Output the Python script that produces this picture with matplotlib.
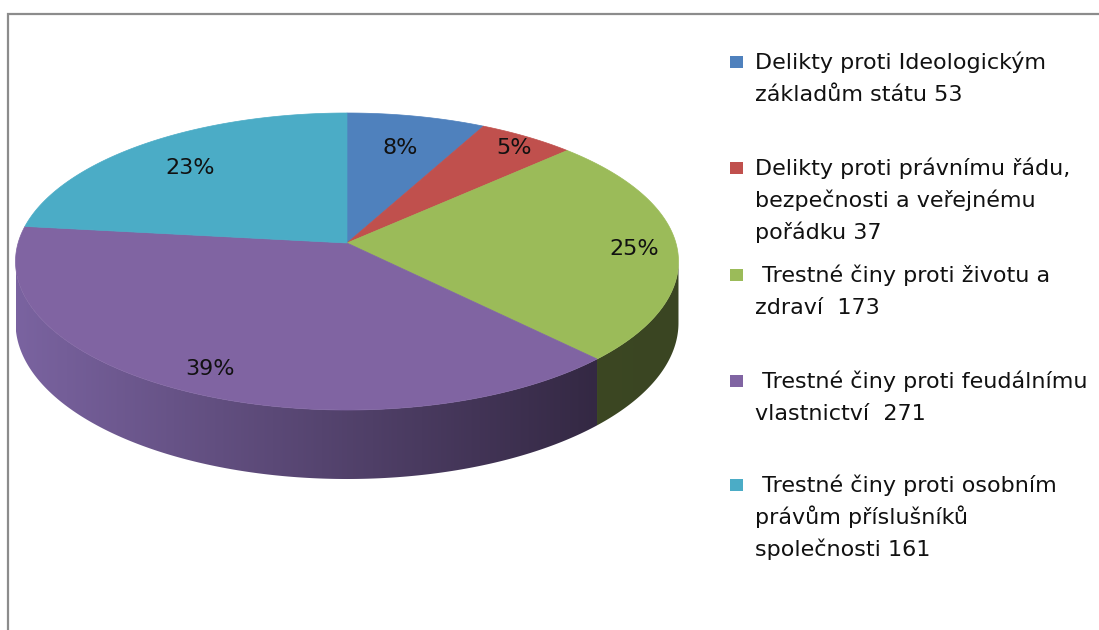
import numpy as np
import matplotlib
matplotlib.use("Agg")
import matplotlib.pyplot as plt
from matplotlib.patches import Polygon, Rectangle
from matplotlib.colors import LinearSegmentedColormap

# ---------------- data ----------------
categories = [
    ["Delikty proti Ideologickým", "základům státu 53"],
    ["Delikty proti právnímu řádu,", "bezpečnosti a veřejnému", "pořádku 37"],
    [" Trestné činy proti životu a", "zdraví  173"],
    [" Trestné činy proti feudálnímu", "vlastnictví  271"],
    [" Trestné činy proti osobním", "právům příslušníků", "společnosti 161"],
]
values = [53, 37, 173, 271, 161]
top_colors = ["#4F81BD", "#C0504D", "#9BBB59", "#8064A2", "#4BACC6"]
side_colors = [("#3B6190", "#263F5E"), ("#913C3A", "#5E2726"),
               ("#46542A", "#3A4522"), ("#7A63A0", "#2A2036"),
               ("#38819A", "#245466")]

# ---------------- layout ----------------
W, H = 1099, 630
CX, CY = 347, 243          # apex of the pie (pixels)
A, B, P = 328.9, 146.2, 0.1246   # projected radii and perspective factor
DEPTH = 60.4
label_r = [0.75, 0.92, 0.87, 0.85, 0.77]
FONT = ["DejaVu Sans"]

plt.rcParams["font.family"] = FONT

fig = plt.figure(figsize=(W / 100, H / 100), dpi=100)
ax = fig.add_axes([0, 0, 1, 1])
ax.set_xlim(0, W)
ax.set_ylim(H, 0)
ax.axis("off")


def proj(phi_deg, r=1.0):
    ph = np.radians(phi_deg)
    u = r * np.cos(ph)
    v = r * np.sin(ph)
    d = 1 + P * v
    return CX + A * u / d, CY - B * v / d


def proj_bottom(phi_deg):
    x, y = proj(phi_deg)
    v = np.sin(np.radians(phi_deg))
    return x, y + DEPTH / (1 + P * v)


total = sum(values)
theta = np.concatenate([[0], np.cumsum(values)]) / total * 360.0

# visible side range (clockwise angle from top)
edge = np.degrees(np.arcsin(P))
vis_lo, vis_hi = 90 + edge, 270 - edge
x_left, _ = proj(180 + edge)
x_right, _ = proj(-edge)

# sides
for i in range(len(values)):
    a0 = max(theta[i], vis_lo)
    a1 = min(theta[i + 1], vis_hi)
    if a1 <= a0:
        continue
    ts = np.linspace(a0, a1, 300)
    phis = 90 - ts
    xt, yt = proj(phis)
    xb, yb = proj_bottom(phis)
    verts = np.vstack([np.column_stack([xt, yt]),
                       np.column_stack([xb[::-1], yb[::-1]])])
    poly = Polygon(verts, closed=True, fc="none", ec="none", zorder=2)
    ax.add_patch(poly)
    cmap = LinearSegmentedColormap.from_list("s%d" % i, list(side_colors[i]))
    grad = np.linspace(0, 1, 512).reshape(1, -1)
    im = ax.imshow(grad, extent=(x_left, x_right, yb.max() + 2, yt.min() - 2),
                   cmap=cmap, aspect="auto", zorder=2, interpolation="bilinear")
    im.set_clip_path(poly)

# top faces
for i in range(len(values)):
    ts = np.linspace(theta[i], theta[i + 1], 300)
    xs, ys = proj(90 - ts)
    verts = np.vstack([[CX, CY], np.column_stack([xs, ys])])
    ax.add_patch(Polygon(verts, closed=True, fc=top_colors[i],
                         ec=top_colors[i], lw=0.5, zorder=3))

ax.set_xlim(0, W)
ax.set_ylim(H, 0)

# percentage labels
for i, v in enumerate(values):
    mid = (theta[i] + theta[i + 1]) / 2
    lx, ly = proj(90 - mid, label_r[i])
    ax.text(lx, ly + 9, "%d%%" % round(v / total * 100), ha="center",
            va="baseline", fontsize=16, color="#111111", zorder=5)

# legend
first_baselines = [69, 175, 282, 388, 492]
line_step = 32
for i, lines in enumerate(categories):
    b0 = first_baselines[i]
    ax.add_patch(Rectangle((730, b0 - 13), 13, 12, fc=top_colors[i],
                           ec="none", zorder=4))
    for k, line in enumerate(lines):
        ax.text(755, b0 + k * line_step, line, ha="left", va="baseline",
                fontsize=16, color="#111111", zorder=5)

# chart area border (partial frame)
ax.plot([8, 8, W + 5], [H + 5, 14, 14], color="#8C8C8C", lw=1.6,
        clip_on=False, zorder=6, solid_joinstyle="miter")

fig.savefig("out.png", dpi=100)
